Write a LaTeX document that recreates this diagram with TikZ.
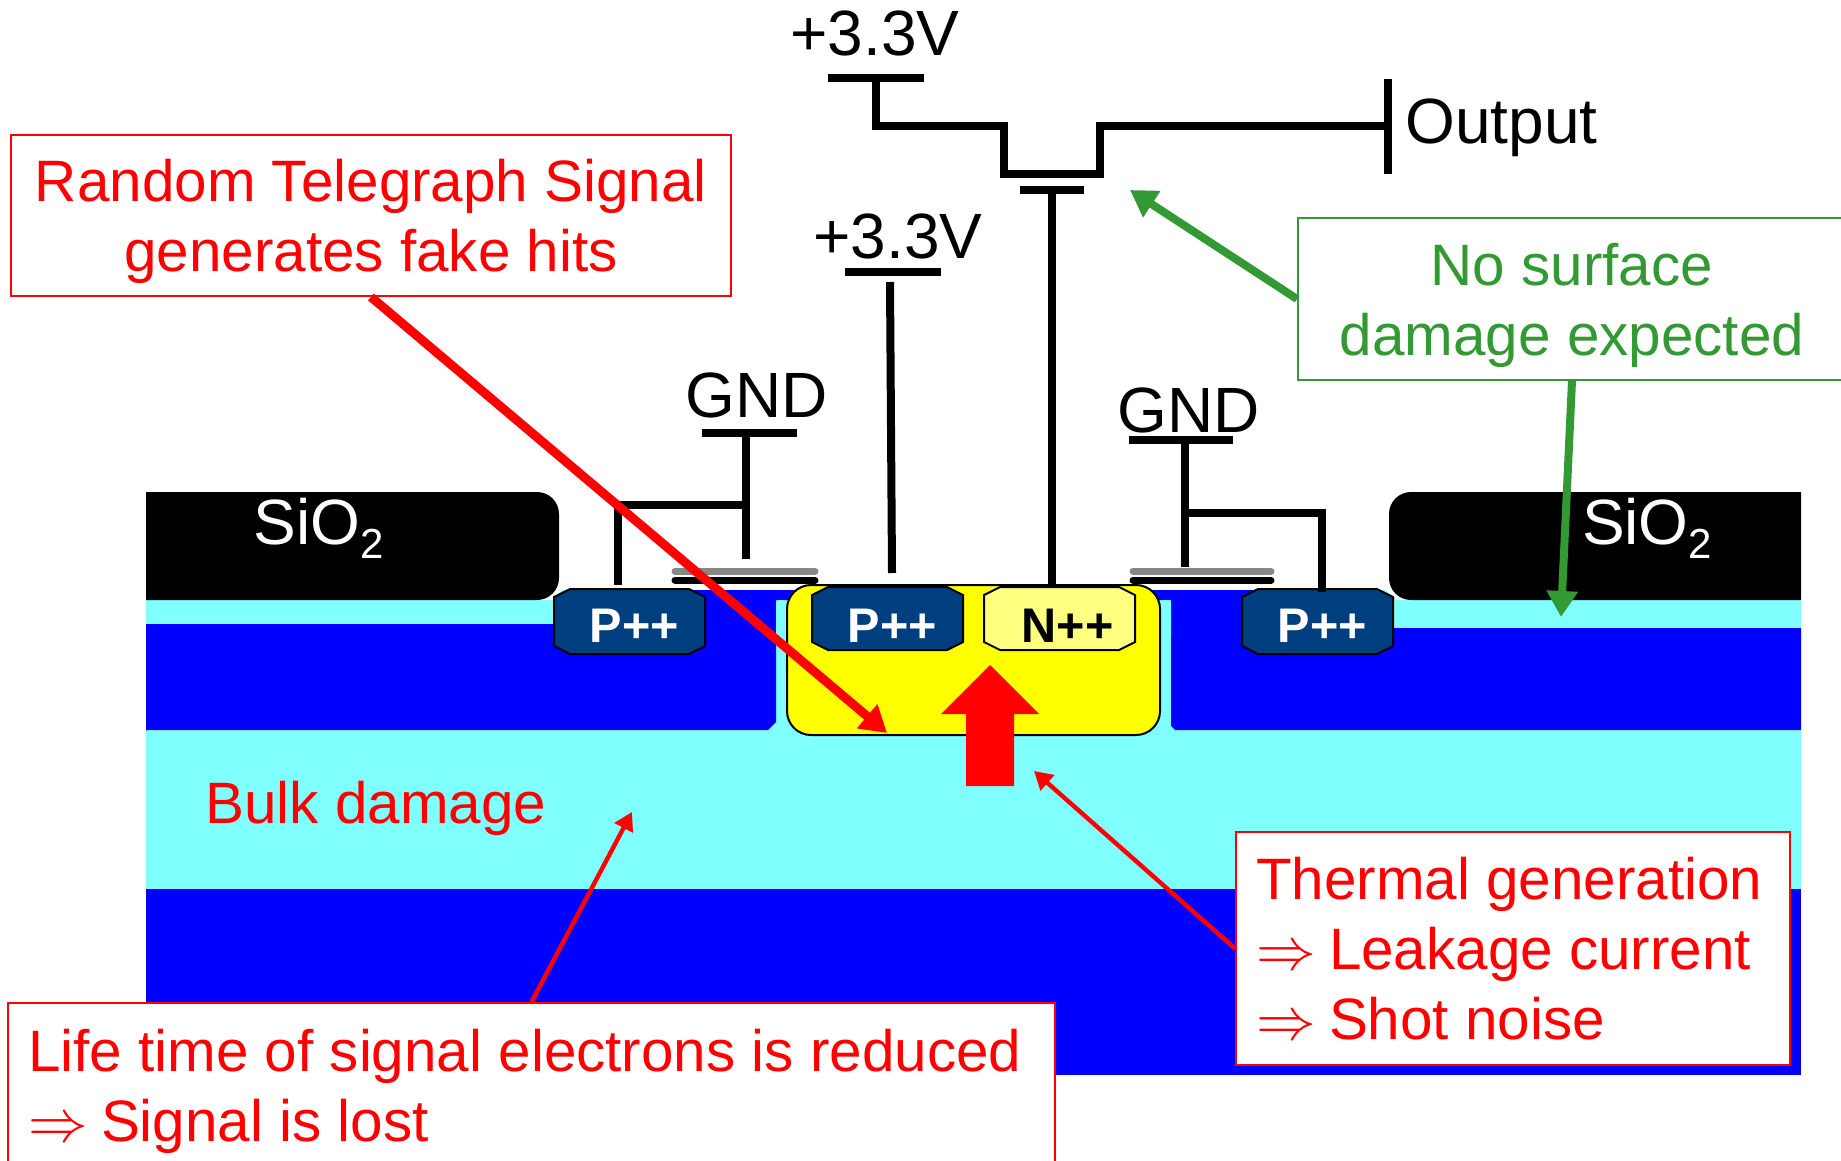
\documentclass[tikz,border=0pt]{standalone}
\usepackage{fontspec}
\setmainfont{Liberation Sans}
\usetikzlibrary{arrows.meta,calc}
\definecolor{cyanl}{HTML}{80FFFF}
\definecolor{bluel}{HTML}{0000FF}
\definecolor{navyp}{HTML}{003F7F}
\definecolor{nyel}{HTML}{FFFF80}
\definecolor{wellyel}{HTML}{FFFF00}
\definecolor{pureRed}{HTML}{FF0000}
\definecolor{greent}{HTML}{339933}
\newcommand\bs{\rule[-6.9pt]{0pt}{35pt}}
\newcommand\lead{\makebox[36.5pt][l]{\scalebox{1.2}{$\Rightarrow$}}}
\newcommand\SiOtwo{SiO\raisebox{-7pt}{\fontsize{21}{21}\selectfont 2}}
\newcommand\boxfont{\fontsize{29.2}{35}\selectfont\lineskiplimit=-100pt\hyphenpenalty=10000 }
% \implant{name}{cx}{top}{bottom}{style}{text}
\newcommand\implant[6]{%
  \draw[#5] ({#2-75.5},{#3+8}) -- ({#2-59.5},#3) -- ({#2+59.5},#3) -- ({#2+75.5},{#3+8})
     -- ({#2+75.5},{#4-8}) -- ({#2+59.5},#4) -- ({#2-59.5},#4) -- ({#2-75.5},{#4-8}) -- cycle;
  \node[#5 text,anchor=base] (#1) at ({#2+5},642) {#6};}
\tikzset{
  txt/.style={font=\fontsize{32}{35}\selectfont, inner sep=0pt, text=#1},
  txt/.default=black,
  wire/.style={draw=black, line width=4pt},
  redbox/.style={draw=pureRed, fill=white, line width=1pt, inner xsep=10pt, inner ysep=0pt, text=pureRed, font=\boxfont},
  greenbox/.style={draw=greent, fill=white, line width=1pt, inner xsep=0pt, inner ysep=0pt, text=greent, font=\boxfont},
  pdope/.style={draw=black, line width=1pt, fill=navyp},
  ndope/.style={draw=black, line width=1pt, fill=nyel},
  pdope text/.style={inner sep=0pt, text=white, font=\fontsize{24.3}{26}\bfseries\selectfont},
  ndope text/.style={inner sep=0pt, text=black, font=\fontsize{24.3}{26}\bfseries\selectfont},
  gategrey/.style={draw=black!47, line width=3.5pt, line cap=round},
  gateblack/.style={draw=black, line width=3.5pt, line cap=round},
  fatred/.style={draw=pureRed, line width=4.5pt, -{Triangle[length=13pt,width=15pt]}},
  thinred/.style={draw=pureRed, line width=2.2pt, -{Triangle[length=9pt,width=10pt]}},
  fatgreen/.style={draw=greent, line width=4pt, -{Triangle[length=13pt,width=15pt]}},
}
\begin{document}
\begin{tikzpicture}[x=0.5pt,y=-0.5pt]
\useasboundingbox (0,0) rectangle (1841,1161);
\clip (0,0) rectangle (1841,1161);
% substrate
\fill[cyanl] (146,600) -- (552,600) -- (562,590) -- (1385,590) -- (1397,600) -- (1801,600) -- (1801,889) -- (146,889) -- cycle;
\fill[bluel] (146,889) rectangle (1801,1075);
\fill[bluel] (146,624) -- (600,624) -- (600,590) -- (810,590) -- (810,600) -- (776,600) -- (776,722) -- (768,730) -- (146,730) -- cycle;
\fill[bluel] (1171,726) -- (1171,600) -- (1150,600) -- (1150,590) -- (1300,590) -- (1300,628) -- (1801,628) -- (1801,730) -- (1175,730) -- cycle;
\fill[cyanl,rounded corners=2pt] (776,600) rectangle (787,640);
\fill[cyanl,rounded corners=2pt] (1160,600) rectangle (1171,640);
% oxide
\fill[black] (146,492) [rounded corners=11pt] -- (559,492) -- (559,600) [sharp corners] -- (146,600) -- cycle;
\fill[black] (1801,492) [rounded corners=11pt] -- (1389,492) -- (1389,600) [sharp corners] -- (1801,600) -- cycle;
\node[txt=white] (sioL) at (319,528) {\SiOtwo};
\node[txt=white] (sioR) at (1647,528) {\SiOtwo};
% well
\draw[fill=wellyel,draw=black,line width=1pt,rounded corners=12pt] (787,585) rectangle (1160,735);
% implants
\implant{pL}{629.5}{589}{654}{pdope}{P++}
\implant{pM}{887.5}{587}{650}{pdope}{P++}
\implant{nM}{1059.5}{587}{650}{ndope}{\hspace*{3pt}N++}
\implant{pR}{1317.5}{589}{654}{pdope}{P++}
% gates
\draw[gategrey] (675,571) -- (815,571);
\draw[gateblack] (675,580) -- (815,580);
\draw[gategrey] (1133,571) -- (1271,571);
\draw[gateblack] (1133,580) -- (1271,580);
% labels
\node[txt,anchor=base] (v1) at (875,56) {+3.3V};
\node[txt,anchor=base] (v2) at (898,258) {+3.3V};
\node[txt,anchor=base] (gndL) at (757,417) {GND};
\node[txt,anchor=base] (gndR) at (1189,432) {GND};
\node[txt,anchor=base west] (out) at (1405,143) {Output};
\node[font=\boxfont,text=pureRed,inner sep=0pt,anchor=base west] (bulk) at (205,823) {Bulk damage};
% rails
\coordinate (r1) at (876,78); \coordinate (r3) at (746,433); \coordinate (r4) at (1185,440);
\coordinate (g1) at (1052,190); \coordinate (outbar) at (1388,126);
\draw[wire] (828,78) -- (924,78);
\draw[wire] (845,272) -- (941,272);
\draw[wire] (702,433) -- (797,433);
\draw[wire] (1129,440) -- (1233,440);
\draw[wire] (1020,190) -- (1084,190);
\draw[wire] (1388,79) -- (1388,174);
% wires
\draw[wire] (r1) -- (876,126) -- (1004,126) -- (1004,174) -- (1100,174) -- (1100,126) -- (outbar);
\draw[wire] (g1) -- (1052,587);
\draw[wire] (890,282) -- (892,573);
\draw[wire] (r3) -- (746,559);
\draw[wire] (746,505) -- (618,505) -- (618,585);
\draw[wire] (r4) -- (1185,567);
\draw[wire] (1185,513) -- (1322,513) -- (1322,592);
% callouts
\node[redbox,inner xsep=0pt,minimum width=360pt,minimum height=80.5pt,align=center] (rts) at (371,215.5) {\bs Random Telegraph Signal\\\bs generates fake hits};
\node[greenbox,minimum width=274pt,minimum height=81pt,align=center] (nosurf) at (1572,299) {\bs No surface\\\bs damage expected};
\node[redbox,text width=257pt,minimum height=116.5pt,align=flush left] (therm) at (1513,948.5) {\bs Thermal generation\\\bs \lead Leakage current\\\bs \lead Shot noise};
\node[redbox,inner xsep=1.75pt,text width=520pt,minimum height=82pt,align=flush left] (life) at (531.5,1085) {\bs\hspace*{8.25pt}Life time of signal electrons is reduced\\\bs\hspace*{8.25pt}\lead Signal is lost};
% arrows
\coordinate (tipRts) at (887,733);
\coordinate (tipSurf1) at (1130,190);
\coordinate (tipSurf2) at (1561,617);
\coordinate (tipTherm) at (1034,771);
\coordinate (tipLife) at (632,812);
\draw[fatred] (rts.south) -- (tipRts);
\draw[fatgreen] (nosurf.west) -- (tipSurf1);
\draw[fatgreen] (nosurf.south) -- (tipSurf2);
\draw[thinred] (therm.west) -- (tipTherm);
\draw[thinred] (life.north) -- (tipLife);
% current arrow
\fill[pureRed] (990,665) -- (1039,714) -- (1014,714) -- (1014,786) -- (966,786) -- (966,714) -- (941,714) -- cycle;
\end{tikzpicture}
\end{document}
